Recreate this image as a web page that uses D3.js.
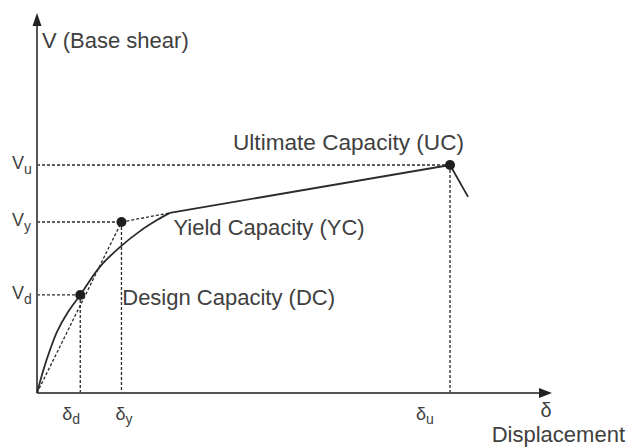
<!DOCTYPE html>
<html>
<head>
<meta charset="utf-8">
<script src="https://cdn.jsdelivr.net/npm/d3@7"></script>
<style>
  html, body { margin: 0; padding: 0; background: #fff; }
  svg { display: block; }
  text { font-family: "Liberation Sans", Arial, sans-serif; fill: #404040; }
</style>
</head>
<body>
<svg id="chart" width="629" height="448"></svg>
<script>
// ---- data (displacement / base shear, arbitrary units) ----
const pointNames = ["Design Capacity (DC)", "Yield Capacity (YC)", "Ultimate Capacity (UC)"];
const pointDisp  = [8.4, 16.4, 80.2];
const pointShear = [25.8, 45.0, 60.0];
const shearTickSubs = ["d", "y", "u"];
const dispTickSubs  = ["d", "y", "u"];

const curveDisp  = [0, 0.58, 1.36, 2.52, 3.88, 6.02, 8.4, 12.2, 16.1, 20.0, 23.3, 25.8];
const curveShear = [0, 2.9, 6.6, 11.3, 16.1, 21.3, 25.8, 33.2, 38.4, 42.6, 45.5, 47.4];
const hardeningDisp  = [25.8, 80.2, 83.7];
const hardeningShear = [47.4, 60.0, 51.6];

const yAxisTitle = "V (Base shear)";
const xAxisSymbol = "δ";
const xAxisTitle = "Displacement";

// ---- drawing ----
const svg = d3.select("#chart");
const x = d3.scaleLinear().domain([0, 100]).range([37, 552]);
const y = d3.scaleLinear().domain([0, 100]).range([393, 13]);
const ink = "#2b2b2b";

const line = d3.line().x(d => x(d[0])).y(d => y(d[1]));
const dashed = (g, pts) => g.append("path")
  .attr("d", line(pts))
  .attr("fill", "none").attr("stroke", ink).attr("stroke-width", 1.3)
  .attr("stroke-dasharray", "3,2");

const gd = svg.append("g");
// horizontal guides from axis to points
pointDisp.forEach((d, i) => dashed(gd, [[0, pointShear[i]], [d, pointShear[i]]]));
// vertical guides from points to axis
pointDisp.forEach((d, i) => dashed(gd, [[d, pointShear[i]], [d, 0]]));
// secant from origin to yield point
dashed(gd, [[0, 0], [pointDisp[1], pointShear[1]]]);
// extension of hardening branch back to yield point
dashed(gd, [[pointDisp[1], pointShear[1]], [hardeningDisp[0], hardeningShear[0]]]);

// axes
const axisColor = "#555";
svg.append("line").attr("x1", x(0)).attr("y1", y(0)).attr("x2", x(98)).attr("y2", y(0))
  .attr("stroke", axisColor).attr("stroke-width", 2);
svg.append("line").attr("x1", x(0)).attr("y1", y(0)).attr("x2", x(0)).attr("y2", y(97))
  .attr("stroke", axisColor).attr("stroke-width", 2);
svg.append("path")
  .attr("d", `M${x(100)},${y(0)} L${x(100) - 13},${y(0) - 5} L${x(100) - 13},${y(0) + 5} Z`)
  .attr("fill", "#222");
svg.append("path")
  .attr("d", `M${x(0)},${y(100)} L${x(0) - 4.5},${y(100) + 13} L${x(0) + 4.5},${y(100) + 13} Z`)
  .attr("fill", "#222");

// capacity curve
const curvePts = curveDisp.map((d, i) => [d, curveShear[i]]);
svg.append("path")
  .attr("d", d3.line().x(d => x(d[0])).y(d => y(d[1])).curve(d3.curveCatmullRom.alpha(0.5))(curvePts))
  .attr("fill", "none").attr("stroke", ink).attr("stroke-width", 1.8);
const hardPts = hardeningDisp.map((d, i) => [d, hardeningShear[i]]);
svg.append("path").attr("d", line(hardPts))
  .attr("fill", "none").attr("stroke", ink).attr("stroke-width", 1.8)
  .attr("stroke-linejoin", "round");

// points
svg.selectAll("circle.pt").data(pointDisp).join("circle")
  .attr("cx", d => x(d)).attr("cy", (d, i) => y(pointShear[i]))
  .attr("r", 5).attr("fill", "#1e1e1e");

// point labels
const labelOffsets = [[42, 10], [52, 13], [-217, -15]];
svg.selectAll("text.pl").data(pointNames).join("text")
  .attr("x", (d, i) => x(pointDisp[i]) + labelOffsets[i][0])
  .attr("y", (d, i) => y(pointShear[i]) + labelOffsets[i][1])
  .attr("font-size", (d, i) => i === 2 ? 22.6 : 22).text(d => d);

// V tick labels
shearTickSubs.forEach((s, i) => {
  const t = svg.append("text").attr("x", 12).attr("y", y(pointShear[i]) + 4).attr("font-size", 18);
  t.append("tspan").text("V");
  t.append("tspan").attr("font-size", 14).attr("dy", 5).text(s);
});

// δ tick labels
const dispLabelDx = [-18, -6, -34];
dispTickSubs.forEach((s, i) => {
  const t = svg.append("text").attr("x", x(pointDisp[i]) + dispLabelDx[i]).attr("y", y(0) + 27).attr("font-size", 18);
  t.append("tspan").text("δ");
  t.append("tspan").attr("font-size", 14).attr("dy", 4).text(s);
});

// axis titles
svg.append("text").attr("x", x(0) + 5).attr("y", 48).attr("font-size", 22).text(yAxisTitle);
svg.append("text").attr("x", x(100) - 6).attr("y", y(0) + 24).attr("font-size", 20)
  .attr("text-anchor", "middle").text(xAxisSymbol);
svg.append("text").attr("x", 625).attr("y", 442).attr("font-size", 22)
  .attr("text-anchor", "end").text(xAxisTitle);
</script>
</body>
</html>
